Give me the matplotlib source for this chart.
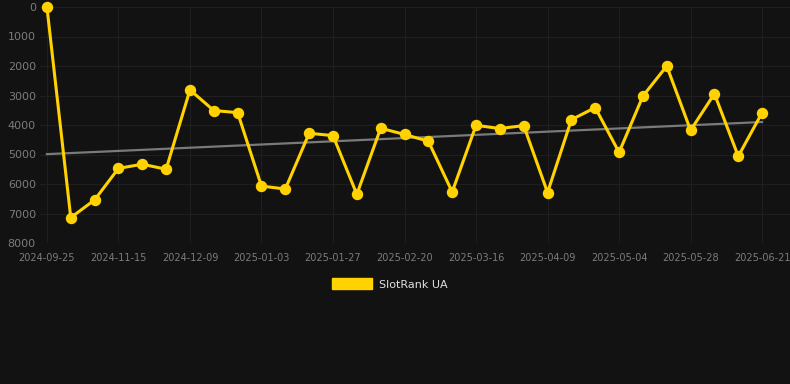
import numpy as np
import matplotlib
matplotlib.use("Agg")
import matplotlib.pyplot as plt
from matplotlib.patches import Patch

# rank values, one point per period (lower is better, axis inverted)
ranks = [0, 7140, 6540, 5470, 5330, 5500, 2810, 3510, 3580, 6070,
         6170, 4280, 4360, 6350, 4110, 4320, 4550, 6270, 4010, 4120,
         4020, 6290, 3820, 3410, 4930, 3020, 2000, 4180, 2940, 5060, 3580]
tick_labels = ["2024-09-25", "2024-11-15", "2024-12-09", "2025-01-03",
               "2025-01-27", "2025-02-20", "2025-03-16", "2025-04-09",
               "2025-05-04", "2025-05-28", "2025-06-21"]
series_name = "SlotRank UA"

bg = "#121212"
yellow = "#FFD200"

x = np.arange(len(ranks))
y = np.array(ranks, dtype=float)

fig = plt.figure(figsize=(7.9, 3.84), dpi=100, facecolor=bg)
ax = fig.add_axes([40 / 790, 1 - 243 / 384, 750 / 790, 236 / 384])
ax.set_facecolor(bg)

# trend line
k, b = np.polyfit(x, y, 1)
ax.plot(x, k * x + b, color="#7a7a7a", lw=1.6, zorder=2)

ax.plot(x, y, color=yellow, lw=2.2, marker="o", ms=7.2,
        clip_on=False, zorder=3)

ax.set_ylim(8000, 0)
ax.set_xlim(-0.29, 31.17)
ax.set_yticks(range(0, 8001, 1000))
ax.set_xticks(x[::3])
ax.set_xticklabels(tick_labels)

ax.grid(True, color="#1f1f1f", lw=0.8)
ax.set_axisbelow(True)
for s in ax.spines.values():
    s.set_visible(False)
ax.tick_params(axis="y", length=0, pad=3, labelsize=8, labelcolor="#7c7c7c")
ax.tick_params(axis="x", length=0, pad=7, labelsize=7, labelcolor="#7c7c7c")

fig.legend(handles=[Patch(facecolor=yellow, edgecolor=yellow, label=series_name)],
           loc="center", bbox_to_anchor=(390 / 790, 1 - 284 / 384),
           frameon=False, fontsize=8, labelcolor="#e0e0e0",
           handlelength=3.6, handleheight=1.1, handletextpad=0.6)

fig.savefig("out.png", dpi=100, facecolor=bg)
